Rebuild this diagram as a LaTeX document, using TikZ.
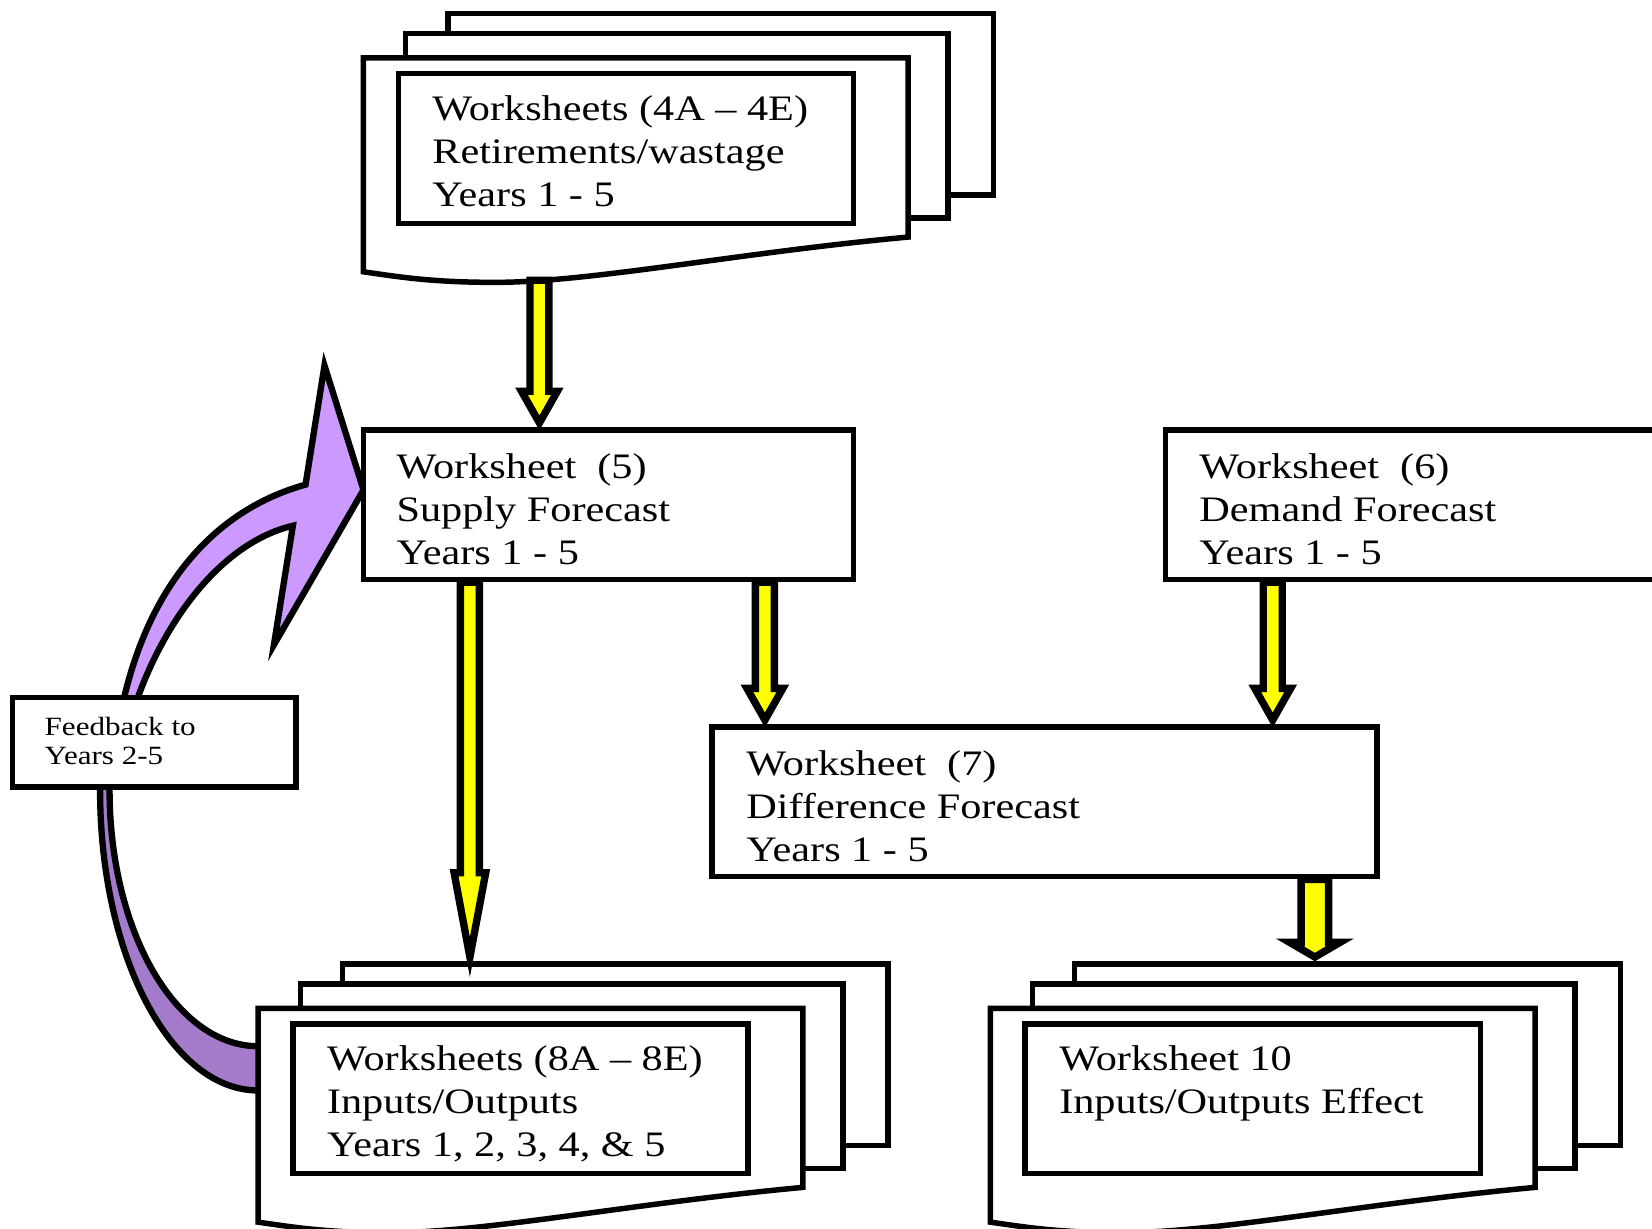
\documentclass[tikz,border=0pt]{standalone}
\usepackage{fontspec}
\setmainfont{Liberation Serif}[FakeStretch=1.18]
\usetikzlibrary{calc}
\definecolor{purpleL}{HTML}{CC99FF}
\definecolor{purpleD}{HTML}{A47BCB}
\definecolor{arrowY}{HTML}{FFFF00}

\tikzset{
  box/.style={draw=black, fill=white, line width=2.6pt, inner sep=0pt, shape=rectangle},
  sheetpath/.style={draw=black, fill=white, line width=2.6pt, line join=miter},
  txt/.style={anchor=north west, inner sep=0pt, align=left, font=\fontsize{17}{20.5}\selectfont},
  smalltxt/.style={anchor=north west, inner sep=0pt, align=left, font=\fontsize{12.5}{14}\selectfont},
  curvearrow/.style={draw=black, line width=3pt, line join=miter},
  yarrow/.style={draw=black, fill=arrowY, line width=3.5pt, line join=miter},
  pics/docstack/.style={code={
     \node[box, minimum width=259pt, minimum height=86pt] (-back) at (339,44) {};
     \node[box, minimum width=257.5pt, minimum height=87.5pt] (-mid) at (297.5,64.5) {};
     \path[sheetpath] (0,0) -- (517,0) -- (517,170)
        .. controls (355,185) and (215,213) .. (125,213)
        .. controls (65,213) and (35,208) .. (0,203) -- cycle;
     \node[box, minimum width=216pt, minimum height=71pt] (-inner) at (249,86) {};
     \coordinate (-bot) at (167,211);
  }},
}

% #1 start, #2 end, #3 shaft half width, #4 head half width, #5 head length
\newcommand{\yarr}[5]{%
  \path[yarrow] let \p1=(#1), \p2=(#2) in
    (\x1-#3,\y1) -- (\x1-#3,\y2+#5) -- (\x1-#4,\y2+#5) -- (\x1,\y2+2pt)
    -- (\x1+#4,\y2+#5) -- (\x1+#3,\y2+#5) -- (\x1+#3,\y1) -- cycle;}

\begin{document}
\begin{tikzpicture}[x=0.5pt, y=-0.5pt]
\useasboundingbox (0,0) rectangle (1568,1166);
\fill[white] (0,0) rectangle (1568,1166);
\clip (0,0) rectangle (1568,1166);

% curved feedback arrow (upper, light)
\path[curvearrow, fill=purpleL]
  (112,700) -- (116,670) .. controls (140,560) and (200,485) .. (290,460)
  -- (308,347) -- (345,465) -- (260,612) -- (278,499)
  .. controls (210,515) and (155,590) .. (128,670) -- (126,700) -- cycle;
% curved feedback arrow (lower, dark)
\path[curvearrow, fill=purpleD]
  (94,730) -- (95,750) .. controls (95,907) and (162,1035) .. (245,1035) -- (265,1035)
  -- (265,993) -- (245,993) .. controls (167,993) and (104,884) .. (104,750) -- (104,730) -- cycle;

% boxes
\node[box, minimum width=232.5pt, minimum height=71pt] (box5) at (577.5,479) {};
\node[box, minimum width=242pt, minimum height=71pt] (box6) at (1348,479) {};
\node[box, minimum width=315.5pt, minimum height=71pt] (box7) at (991.5,761) {};
\node[box, minimum width=134.5pt, minimum height=42.5pt] (fb) at (146.5,704.5) {};

% document stacks
\pic (topdoc) at (345,55) {docstack};
\pic (bldoc) at (245,957) {docstack};
\pic (brdoc) at (940,957) {docstack};

% texts
\node[txt] (t4) at (410,90) {Worksheets (4A – 4E)\\Retirements/wastage\\Years 1 - 5};
\node[txt] (t5) at (376,430) {Worksheet\ \ (5)\\Supply Forecast\\Years 1 - 5};
\node[txt] (t6) at (1138,430) {Worksheet\ \ (6)\\Demand Forecast\\Years 1 - 5};
\node[txt] (t7) at (708,712) {Worksheet\ \ (7)\\Difference Forecast\\Years 1 - 5};
\node[txt] (t8) at (310,992) {Worksheets (8A – 8E)\\Inputs/Outputs\\Years 1, 2, 3, 4, \& 5};
\node[txt] (t10) at (1005,992) {Worksheet 10\\Inputs/Outputs Effect};
\node[smalltxt] (tfb) at (42,680) {Feedback to\\Years 2-5};

% yellow arrows
\yarr{topdoc-bot}{box5.north}{4.5pt}{8.5pt}{17pt}
\yarr{[xshift=-65.75pt]box5.south}{bldoc-back.north}{4.5pt}{7.5pt}{42pt}
\yarr{[xshift=74.25pt]box5.south}{box7.north}{4.5pt}{8.5pt}{17pt}
\yarr{[xshift=-70pt]box6.south}{box7.north}{4.5pt}{8.5pt}{17pt}
\yarr{[xshift=128.25pt]box7.south}{brdoc-back.north}{6.5pt}{12pt}{9pt}
\end{tikzpicture}
\end{document}
